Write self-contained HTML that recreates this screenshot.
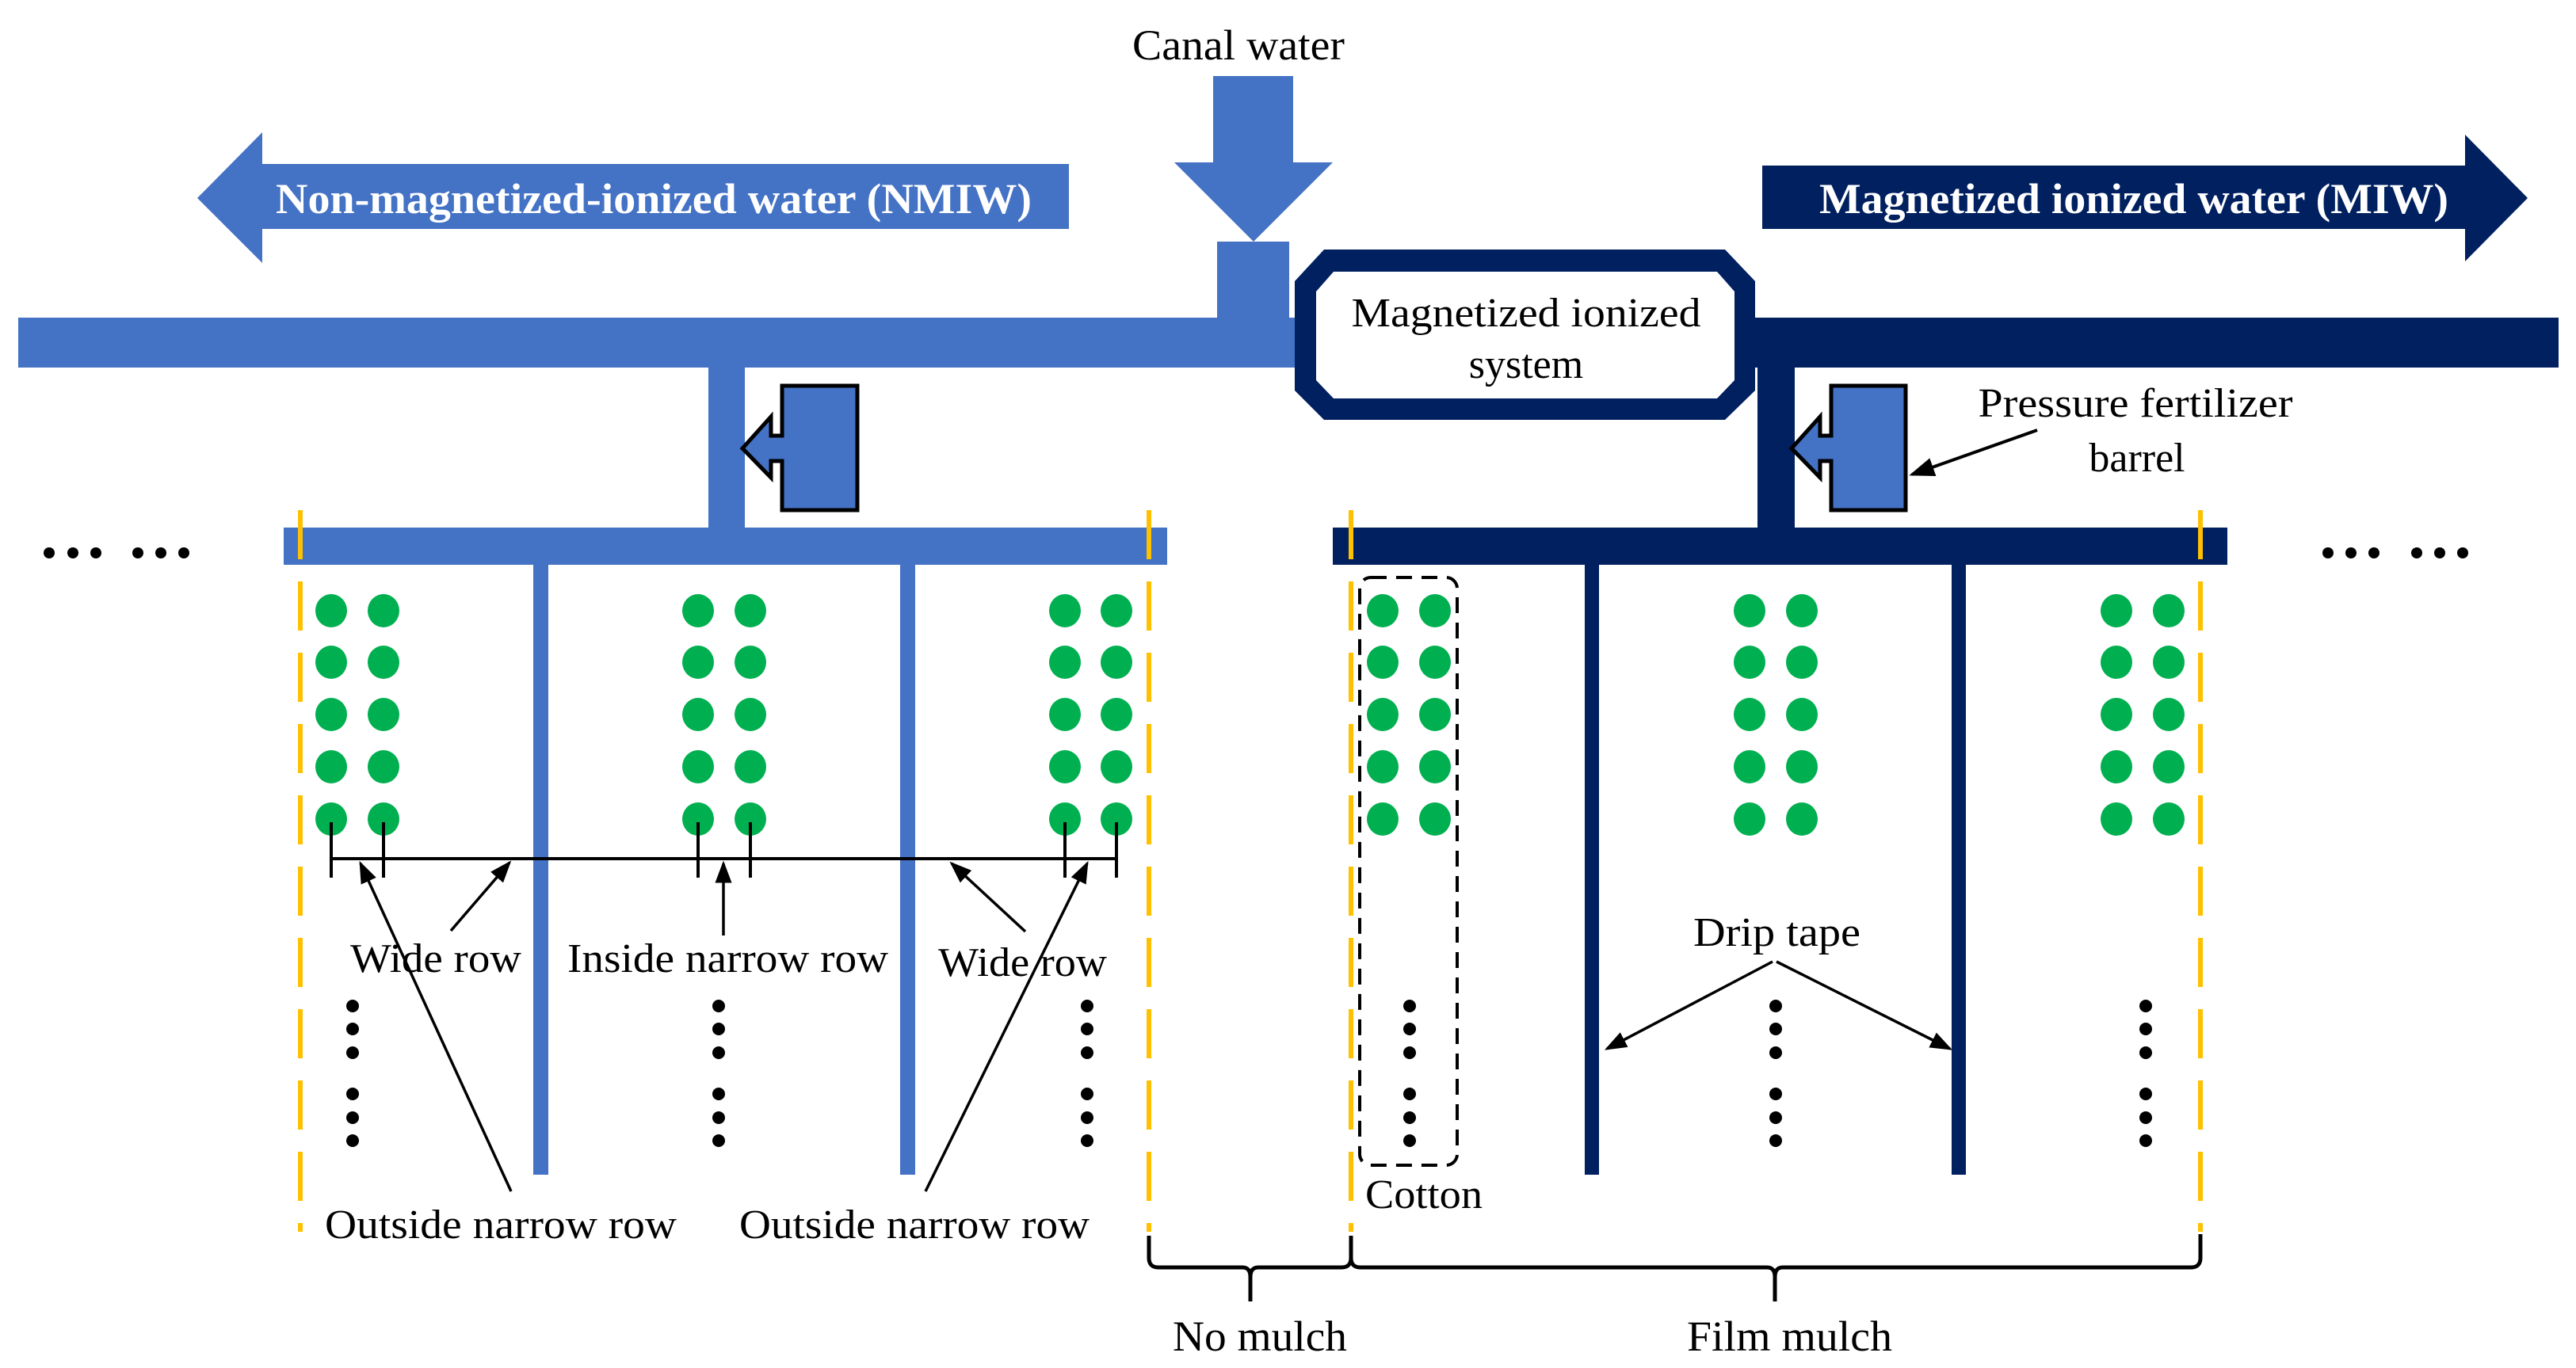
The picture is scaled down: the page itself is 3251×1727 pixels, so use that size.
<!DOCTYPE html>
<html><head><meta charset="utf-8"><style>
html,body{margin:0;padding:0;background:#fff;}
svg{display:block;}
text{font-family:"Liberation Serif",serif;}
</style></head><body>
<svg width="3251" height="1727" viewBox="0 0 3251 1727" xmlns="http://www.w3.org/2000/svg">
<defs>
<marker id="ah" markerWidth="8" markerHeight="8" refX="7" refY="4" orient="auto" markerUnits="strokeWidth">
<path d="M0,1 L8,4 L0,7 Z" fill="#000"/></marker>
<g id="col" fill="#00B050">
<ellipse cx="0" cy="771" rx="20" ry="21"/><ellipse cx="0" cy="836" rx="20" ry="21"/><ellipse cx="0" cy="902" rx="20" ry="21"/><ellipse cx="0" cy="968" rx="20" ry="21"/><ellipse cx="0" cy="1034" rx="20" ry="21"/>
</g>
<g id="vd" fill="#000">
<circle cx="0" cy="1270" r="8"/><circle cx="0" cy="1299" r="8"/><circle cx="0" cy="1329" r="8"/>
<circle cx="0" cy="1381" r="8"/><circle cx="0" cy="1411" r="8"/><circle cx="0" cy="1440" r="8"/>
</g>
</defs>
<rect width="3251" height="1727" fill="#fff"/>

<text x="1429" y="75" font-size="54" textLength="268" lengthAdjust="spacingAndGlyphs">Canal water</text>
<polygon points="1531,96 1632,96 1632,205 1682,205 1582,305 1482,205 1531,205" fill="#4472C4"/>
<rect x="1536" y="305" width="91" height="100" fill="#4472C4"/>

<polygon points="249,250 331,167 331,207 1349,207 1349,289 331,289 331,332" fill="#4472C4"/>
<text x="348" y="269" font-size="54" font-weight="bold" fill="#fff" textLength="954" lengthAdjust="spacingAndGlyphs">Non-magnetized-ionized water (NMIW)</text>

<polygon points="2224,209 3111,209 3111,170 3190,250 3111,330 3111,289 2224,289" fill="#002060"/>
<text x="2296" y="269" font-size="54" font-weight="bold" fill="#fff" textLength="794" lengthAdjust="spacingAndGlyphs">Magnetized ionized water (MIW)</text>

<rect x="23" y="401" width="1615" height="63" fill="#4472C4"/>
<rect x="2200" y="401" width="1029" height="63" fill="#002060"/>

<polygon points="1671,315 2177,315 2215,355 2215,493 2177,530 1671,530 1634,493 1634,355" fill="#002060"/>
<polygon points="1683,343 2167,343 2189,368 2189,480 2167,503 1683,503 1661,480 1661,368" fill="#fff"/>
<text x="1926" y="412" font-size="52" text-anchor="middle" textLength="441" lengthAdjust="spacingAndGlyphs">Magnetized ionized</text>
<text x="1926" y="477" font-size="52" text-anchor="middle">system</text>

<rect x="894" y="464" width="46" height="205" fill="#4472C4"/>
<rect x="2218" y="464" width="47" height="205" fill="#002060"/>

<path d="M987,487 H1082 V644 H987 V582 H973 V603 L937,566 L973,526 V550 H987 Z" fill="#4472C4" stroke="#000" stroke-width="5"/>
<path d="M2311,487 H2405 V644 H2311 V582 H2297 V603 L2261,566 L2297,526 V550 H2311 Z" fill="#4472C4" stroke="#000" stroke-width="5"/>
<text x="2695" y="526" font-size="52" text-anchor="middle" textLength="397" lengthAdjust="spacingAndGlyphs">Pressure fertilizer</text>
<text x="2697" y="595" font-size="52" text-anchor="middle">barrel</text>
<line x1="2571" y1="543" x2="2413" y2="599" stroke="#000" stroke-width="4" marker-end="url(#ah)"/>

<rect x="358" y="666" width="1115" height="47" fill="#4472C4"/>
<rect x="1682" y="666" width="1129" height="47" fill="#002060"/>

<rect x="673" y="713" width="19" height="770" fill="#4472C4"/>
<rect x="1136" y="713" width="19" height="770" fill="#4472C4"/>
<rect x="2000" y="713" width="18" height="770" fill="#002060"/>
<rect x="2463" y="713" width="18" height="770" fill="#002060"/>

<g stroke="#FFC000" stroke-width="6" stroke-dasharray="62,28">
<line x1="379" y1="644" x2="379" y2="1555"/>
<line x1="1450" y1="644" x2="1450" y2="1555"/>
<line x1="1705" y1="644" x2="1705" y2="1555"/>
<line x1="2777" y1="644" x2="2777" y2="1555"/>
</g>

<g fill="#000">
<circle cx="62" cy="698" r="7"/><circle cx="92" cy="698" r="7"/><circle cx="121" cy="698" r="7"/>
<circle cx="174" cy="698" r="7"/><circle cx="203" cy="698" r="7"/><circle cx="232" cy="698" r="7"/>
<circle cx="2938" cy="698" r="7"/><circle cx="2967" cy="698" r="7"/><circle cx="2996" cy="698" r="7"/>
<circle cx="3050" cy="698" r="7"/><circle cx="3079" cy="698" r="7"/><circle cx="3108" cy="698" r="7"/>
</g>

<use href="#col" x="418"/><use href="#col" x="484"/>
<use href="#col" x="881"/><use href="#col" x="947"/>
<use href="#col" x="1344"/><use href="#col" x="1409"/>
<use href="#col" x="1745"/><use href="#col" x="1811"/>
<use href="#col" x="2208"/><use href="#col" x="2274"/>
<use href="#col" x="2671"/><use href="#col" x="2737"/>

<use href="#vd" x="445"/><use href="#vd" x="907"/><use href="#vd" x="1372"/>
<use href="#vd" x="1779"/><use href="#vd" x="2241"/><use href="#vd" x="2708"/>

<g stroke="#000" stroke-width="4">
<line x1="418" y1="1084" x2="1409" y2="1084"/>
<line x1="418" y1="1038" x2="418" y2="1108"/><line x1="484" y1="1038" x2="484" y2="1108"/>
<line x1="881" y1="1038" x2="881" y2="1108"/><line x1="947" y1="1038" x2="947" y2="1108"/>
<line x1="1344" y1="1038" x2="1344" y2="1108"/><line x1="1409" y1="1038" x2="1409" y2="1108"/>
</g>
<g stroke="#000" stroke-width="3.5" marker-end="url(#ah)">
<line x1="569" y1="1175" x2="643" y2="1089"/>
<line x1="913" y1="1181" x2="913" y2="1090"/>
<line x1="1294" y1="1176" x2="1201" y2="1090"/>
<line x1="645" y1="1504" x2="455" y2="1090"/>
<line x1="1168" y1="1504" x2="1372" y2="1090"/>
<line x1="2237" y1="1214" x2="2028" y2="1324"/>
<line x1="2242" y1="1214" x2="2461" y2="1324"/>
</g>
<text x="442" y="1227" font-size="52" textLength="216" lengthAdjust="spacingAndGlyphs">Wide row</text>
<text x="716" y="1227" font-size="52" textLength="405" lengthAdjust="spacingAndGlyphs">Inside narrow row</text>
<text x="1184" y="1232" font-size="52" textLength="213" lengthAdjust="spacingAndGlyphs">Wide row</text>
<text x="410" y="1563" font-size="52" textLength="444" lengthAdjust="spacingAndGlyphs">Outside narrow row</text>
<text x="933" y="1563" font-size="52" textLength="442" lengthAdjust="spacingAndGlyphs">Outside narrow row</text>
<text x="2137" y="1194" font-size="52" textLength="211" lengthAdjust="spacingAndGlyphs">Drip tape</text>

<rect x="1716" y="729" width="123" height="742" rx="14" fill="none" stroke="#000" stroke-width="4" stroke-dasharray="20,12"/>
<text x="1723" y="1525" font-size="52" textLength="148" lengthAdjust="spacingAndGlyphs">Cotton</text>

<g fill="none" stroke="#000" stroke-width="5">
<path d="M1450,1560 V1588 Q1450,1600 1462,1600 H1568 Q1578,1600 1578,1612 V1643 M1578,1612 Q1578,1600 1588,1600 H1693 Q1705,1600 1705,1588 V1560"/>
<path d="M1705,1588 Q1705,1600 1717,1600 H2230 Q2240,1600 2240,1612 V1643 M2240,1612 Q2240,1600 2250,1600 H2765 Q2777,1600 2777,1588 V1558"/>
</g>
<text x="1480" y="1705" font-size="54" textLength="220" lengthAdjust="spacingAndGlyphs">No mulch</text>
<text x="2129" y="1705" font-size="54" textLength="259" lengthAdjust="spacingAndGlyphs">Film mulch</text>
</svg>
</body></html>
